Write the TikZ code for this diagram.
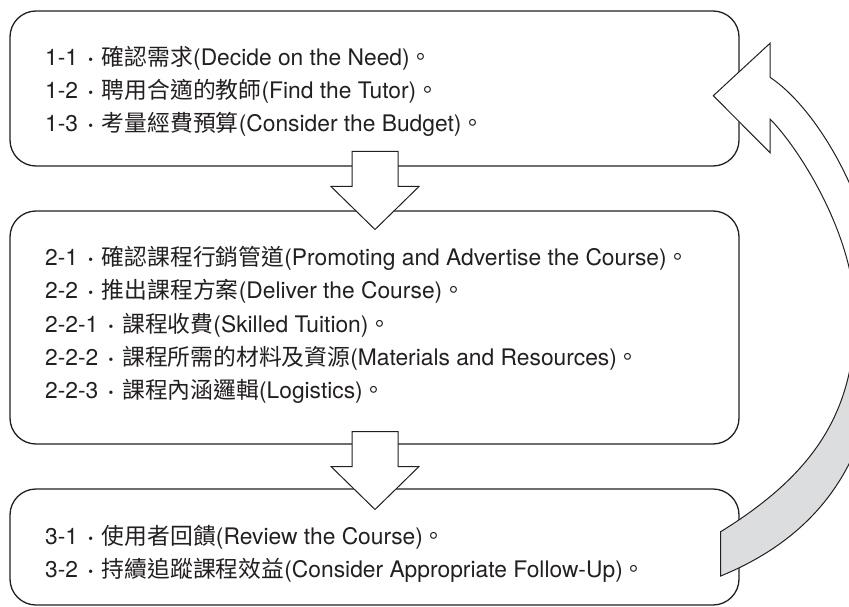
\documentclass[tikz,border=0pt]{standalone}
\usepackage{fontspec}
\setmainfont{TeX Gyre Heros}
\newfontfamily\cjkf{Noto Sans CJK TC}
\newcommand\zh[1]{{\cjkf #1}}
\newcommand\sepdot{\hspace{9.5pt}{\bfseries ·}\hspace{8pt}}
\definecolor{agray}{RGB}{220,221,222}
\definecolor{ink}{RGB}{35,31,32}
\pgfdeclareverticalshading{arrowshade}{100bp}{color(0bp)=(agray); color(43bp)=(agray); color(47bp)=(white); color(100bp)=(white)}
\begin{document}
\begin{tikzpicture}[x=1pt,y=-1pt,
  box/.style={draw=ink, line width=1.3pt, rounded corners=26pt, minimum width=729pt, inner sep=0pt},
  txt/.style={anchor=base west, inner sep=0pt, font=\fontsize{22.8}{27}\selectfont, text=ink},
  blockarrow/.style={draw=ink, line width=1pt, fill=white, line join=miter}]
\useasboundingbox (0,0) rectangle (849,607);
% boxes
\node[box, minimum height=155pt] (b1) at (374.5,88.5) {};
\node[box, minimum height=233pt] (b2) at (374.5,327.5) {};
\node[box, minimum height=116pt] (b3) at (374.5,547) {};
% texts
\node[txt] (t11) at (45,65.5) {1-1\sepdot\zh{確認需求}(Decide on the Need)\zh{。}};
\node[txt] (t12) at (45,98.5) {1-2\sepdot\zh{聘用合適的教師}(Find the Tutor)\zh{。}};
\node[txt] (t13) at (45,132) {1-3\sepdot\zh{考量經費預算}(Consider the Budget)\zh{。}};
\node[txt] (t21) at (45,265) {2-1\sepdot\zh{確認課程行銷管道}(Promoting and Advertise the Course)\zh{。}};
\node[txt] (t22) at (45,298.5) {2-2\sepdot\zh{推出課程方案}(Deliver the Course)\zh{。}};
\node[txt] (t221) at (45,332) {2-2-1\sepdot\zh{課程收費}(Skilled Tuition)\zh{。}};
\node[txt] (t222) at (45,365) {2-2-2\sepdot\zh{課程所需的材料及資源}(Materials and Resources)\zh{。}};
\node[txt] (t223) at (45,398.5) {2-2-3\sepdot\zh{課程內涵邏輯}(Logistics)\zh{。}};
\node[txt] (t31) at (45,544.5) {3-1\sepdot\zh{使用者回饋}(Review the Course)\zh{。}};
\node[txt] (t32) at (45,577.5) {3-2\sepdot\zh{持續追蹤課程效益}(Consider Appropriate Follow-Up)\zh{。}};
% down block arrows
\draw[blockarrow] (352,151.5) -- (398,151.5) -- (398,186.5) -- (419,186.5) -- (375,229.5) -- (331,186.5) -- (352,186.5) -- cycle;
\draw[blockarrow] (352,431.5) -- (398,431.5) -- (398,466.5) -- (419,466.5) -- (375,509.5) -- (331,466.5) -- (352,466.5) -- cycle;
% curved return arrow
\begin{scope}
\clip (0,0) rectangle (849,607);
\path[draw=ink, line width=1pt, shading=arrowshade, line join=miter]
  (713.3,95.7) -- (770,43.3) -- (770,77.3)
  .. controls (820,110.5) and (880,215) .. (880,315)
  .. controls (880,445) and (830.7,530.9) .. (720.7,576)
  -- (720.7,531.7)
  .. controls (810.7,475.9) and (855,415) .. (855,315)
  .. controls (855,235) and (798,147) .. (770,119)
  -- (770,152.7) -- cycle;
\end{scope}
\end{tikzpicture}
\end{document}
